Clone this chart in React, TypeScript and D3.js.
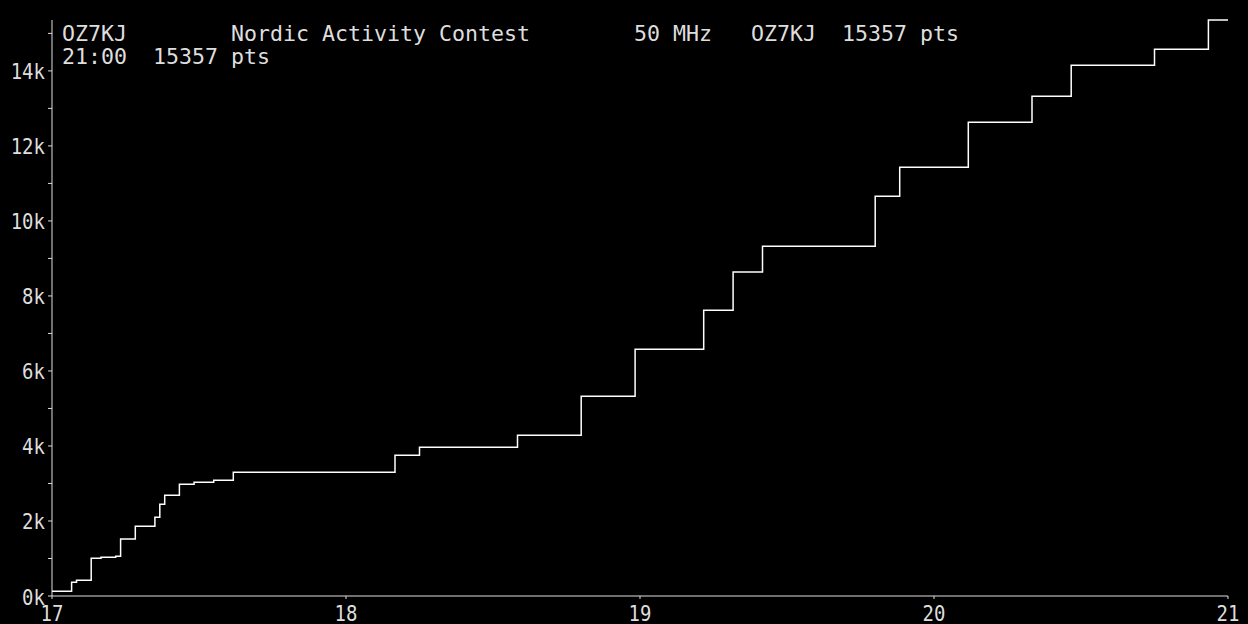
import React, { useEffect } from "react";
import * as d3 from "d3";

// Minutes after 17:00 at which the score changed, and the cumulative score after each change
const stepMinutes = [0, 4, 5, 8, 10, 13, 14, 17, 21, 22, 23, 26, 29, 33, 37, 70, 75, 95, 108, 119, 133, 139, 145, 168, 173, 187, 200, 208, 225, 236, 240];
const stepScores = [125, 365, 418, 1005, 1032, 1058, 1520, 1858, 2098, 2445, 2685, 2978, 3032, 3085, 3300, 3752, 3965, 4285, 5325, 6578, 7618, 8640, 9325, 10659, 11432, 12632, 13325, 14152, 14579, 15357, 15357];

const xTickValues = [17, 18, 19, 20, 21];
const xTickLabels = ["17", "18", "19", "20", "21"];
const yMajorTicks = [0, 2000, 4000, 6000, 8000, 10000, 12000, 14000];
const yMajorLabels = ["0k", "2k", "4k", "6k", "8k", "10k", "12k", "14k"];
const yMinorTicks = [1000, 3000, 5000, 7000, 9000, 11000, 13000, 15000];

const titleLine1 = "OZ7KJ        Nordic Activity Contest        50 MHz   OZ7KJ  15357 pts";
const titleLine2 = "21:00  15357 pts";
const totalScore = 15357;

const W = 1248;
const H = 624;
const TEXT = "#dedede";
const MONO = "'DejaVu Sans Mono', 'Liberation Mono', monospace";

export default function App() {
  useEffect(() => {
    document.body.style.margin = "0";
    document.body.style.background = "#000";
  }, []);

  const x = d3.scaleLinear().domain([17, 21]).range([52, 1228]);
  const y = d3.scaleLinear().domain([0, totalScore]).range([596, 20]);

  const pts: [number, number][] = stepMinutes.map((m, i) => [17 + m / 60, stepScores[i]]);
  const line = d3
    .line<[number, number]>()
    .x((d) => x(d[0]))
    .y((d) => y(d[1]))
    .curve(d3.curveStepAfter);

  const x0 = x(17);
  const yBase = y(0);

  return (
    <svg width={W} height={H} style={{ display: "block", background: "#000" }}>
      <rect x={0} y={0} width={W} height={H} fill="#000" />
      {/* title */}
      <text x={62} y={41} fill={TEXT} fontFamily={MONO} fontSize={21.6} style={{ whiteSpace: "pre" }}>
        {titleLine1}
      </text>
      <text x={62} y={64} fill={TEXT} fontFamily={MONO} fontSize={21.6} style={{ whiteSpace: "pre" }}>
        {titleLine2}
      </text>

      {/* axes */}
      <line x1={x0} x2={x0} y1={y(totalScore)} y2={yBase} stroke={TEXT} strokeWidth={1} />
      <line x1={x0} x2={x(21)} y1={yBase} y2={yBase} stroke={TEXT} strokeWidth={1} />

      {yMajorTicks.map((t, i) => (
        <g key={"ym" + t}>
          <line x1={x0 - 4} x2={x0} y1={y(t)} y2={y(t)} stroke={TEXT} strokeWidth={1} />
          <text
            transform={`translate(${x0 - 7},${y(t) + 8.5}) scale(1,1.15)`}
            textAnchor="end"
            fill={TEXT}
            fontFamily={MONO}
            fontSize={19}
          >
            {yMajorLabels[i]}
          </text>
        </g>
      ))}
      {yMinorTicks.map((t) => (
        <line key={"yn" + t} x1={x0 - 4} x2={x0} y1={y(t)} y2={y(t)} stroke={TEXT} strokeWidth={1} />
      ))}
      {xTickValues.map((t, i) => (
        <g key={"x" + t}>
          <line x1={x(t)} x2={x(t)} y1={yBase} y2={yBase + 3} stroke={TEXT} strokeWidth={1} />
          <text
            transform={`translate(${x(t)},${yBase + 25}) scale(1,1.15)`}
            textAnchor="middle"
            fill={TEXT}
            fontFamily={MONO}
            fontSize={19}
          >
            {xTickLabels[i]}
          </text>
        </g>
      ))}

      {/* score curve */}
      <path d={line(pts) || ""} fill="none" stroke="#ffffff" strokeWidth={1.5} />
    </svg>
  );
}
